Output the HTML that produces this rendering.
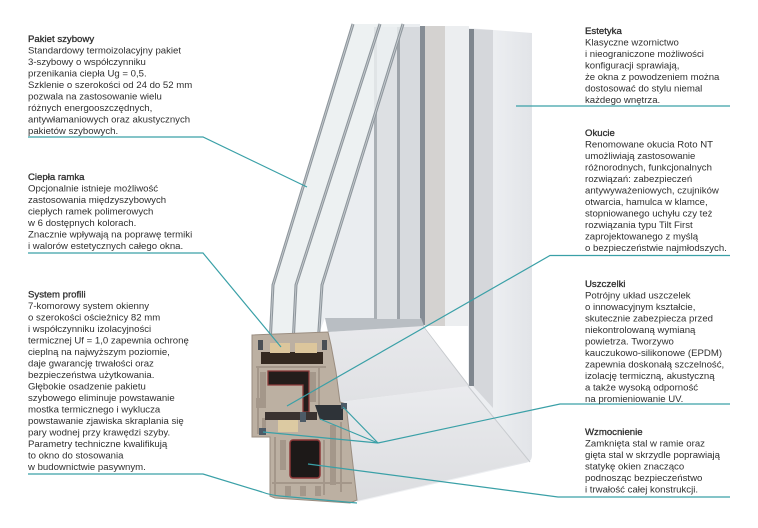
<!DOCTYPE html>
<html>
<head>
<meta charset="utf-8">
<style>
html,body{margin:0;padding:0;background:#fff;}
svg{display:block;}
text{font-family:"Liberation Sans","DejaVu Sans",sans-serif;font-size:9.6px;fill:#2f2f2f;}
.t{stroke:#2f2f2f;stroke-width:0.3px;}
.ln{fill:none;stroke:#3aa0a7;stroke-width:1.2;}
</style>
</head>
<body>
<svg width="758" height="528" viewBox="0 0 758 528" xmlns="http://www.w3.org/2000/svg">
<defs>
<linearGradient id="railF" x1="0" y1="0" x2="0" y2="1">
<stop offset="0" stop-color="#eaebee"/><stop offset="1" stop-color="#dcdde0"/>
</linearGradient>
<linearGradient id="railS" x1="0" y1="0" x2="0" y2="1">
<stop offset="0" stop-color="#e8e9ec"/><stop offset="1" stop-color="#e0e1e4"/>
</linearGradient>
<linearGradient id="frameV" x1="0" y1="0" x2="1" y2="0">
<stop offset="0" stop-color="#f1f2f4"/><stop offset="0.8" stop-color="#eceef1"/><stop offset="1" stop-color="#e2e4e8"/>
</linearGradient>
</defs>

<!-- ===== Window ===== -->
<path d="M468,28 L532,33 L532,455 Q532,462 525,463 L357,502 L345,404 L468,386 Z" fill="url(#frameV)"/>
<path d="M340,402 L468,386 L529,461 L357,501 Z" fill="url(#railF)"/>
<line x1="468" y1="386" x2="530" y2="462" stroke="#c8cbcf" stroke-width="1"/>
<path d="M473,29 L493,30 L493,408 L473,386 Z" fill="#d5d7db"/>
<rect x="469" y="29" width="5" height="357" fill="#7f868e"/>

<rect x="420" y="26" width="49" height="300" fill="#eceef0"/>
<rect x="425" y="26" width="20" height="300" fill="#d4d2d0"/>
<rect x="420" y="26" width="5" height="299" fill="#868d95"/>
<path d="M328,332 L422,326 L469,386 L340,402 Z" fill="url(#railS)"/>
<line x1="423" y1="326" x2="469" y2="386" stroke="#c6c9cd" stroke-width="1"/>
<path d="M325,318 L421,318 L424,326 L328,332 Z" fill="#b9bec3"/>

<path d="M353,24 L420,24 L420,318 L325,318 L318,336 L270,336 L273,285 Z" fill="#eaedf0"/>
<rect x="374" y="27" width="3" height="292" fill="#aab0b5"/>
<rect x="377" y="27" width="20" height="292" fill="#dde0e3"/>
<rect x="397" y="27" width="3" height="292" fill="#9da3a9"/>
<rect x="400" y="27" width="20" height="292" fill="#d7dade"/>

<path d="M353,24 L403,24 L322,285 L318,340 L270,340 L273,285 Z" fill="#eef1f3" opacity="0.8"/>
<g fill="none" stroke-linejoin="round">
<polyline points="353,24 273,285 270,345" stroke="#8f979d" stroke-width="3"/>
<polyline points="380,24 296,285 293,345" stroke="#8f979d" stroke-width="3"/>
<polyline points="403,24 322,285 318,345" stroke="#8f979d" stroke-width="3"/>
<polyline points="353,24 273,285 270,345" stroke="#c9ced2" stroke-width="0.8"/>
<polyline points="380,24 296,285 293,345" stroke="#c9ced2" stroke-width="0.8"/>
<polyline points="403,24 322,285 318,345" stroke="#c9ced2" stroke-width="0.8"/>
</g>

<!-- cross-section -->
<path d="M252,335 L328,332 L331,345 L336,372 L340,402 L346,404 L357,500 L350,503 L275,498 L270,496 L270,437 L252,437 Z" fill="#bcb0a2" stroke="#9a8d80" stroke-width="1"/>
<g fill="#a4978a">
<rect x="256" y="366" width="70" height="2"/>
<rect x="257" y="368" width="2" height="66"/>
<rect x="318" y="366" width="2" height="40"/>
<rect x="260" y="372" width="6" height="26"/>
<rect x="310" y="372" width="6" height="30"/>
<rect x="256" y="398" width="10" height="10"/>
<rect x="274" y="437" width="2" height="58"/>
<rect x="280" y="440" width="6" height="30"/>
<rect x="323" y="440" width="2" height="55"/>
<rect x="330" y="425" width="6" height="60"/>
<rect x="340" y="422" width="2" height="70"/>
<rect x="272" y="482" width="80" height="2"/>
<rect x="285" y="486" width="6" height="10"/>
<rect x="300" y="486" width="6" height="10"/>
<rect x="315" y="486" width="6" height="10"/>
<rect x="262" y="418" width="4" height="14"/>
</g>
<rect x="261" y="352" width="62" height="12" fill="#33281f"/>
<rect x="270" y="343" width="20" height="10" fill="#dcc69c"/>
<rect x="295" y="343" width="22" height="10" fill="#dcc69c"/>
<rect x="258" y="340" width="5" height="10" fill="#4a4f55"/>
<rect x="322" y="340" width="5" height="10" fill="#4a4f55"/>
<path d="M268,371 L309,371 L309,412 L303,412 L303,385 L268,385 Z" fill="#231d1b" stroke="#8b3b3b" stroke-width="1.3"/>
<rect x="265" y="412" width="52" height="8" fill="#3a3230"/>
<rect x="278" y="420" width="20" height="12" fill="#dccaa2"/>
<path d="M315,405 L343,405 L343,420 L320,420 Z" fill="#2e3338"/>
<rect x="341" y="403" width="6" height="6" fill="#4d5a66"/>
<rect x="259" y="428" width="7" height="7" fill="#4d5a66"/>
<rect x="300" y="412" width="6" height="10" fill="#4d5a66"/>
<rect x="290" y="440" width="30" height="38" rx="3" fill="#1d1918" stroke="#8b3737" stroke-width="1.5"/>

<!-- ===== Connector lines ===== -->
<polyline class="ln" points="28,137 203,137 307,187"/>
<polyline class="ln" points="28,253 203,253 281,347"/>
<path class="ln" d="M28,474 L203,474 L262,492 Q270,495 280,496 L357,503"/>
<line class="ln" x1="516" y1="106" x2="730" y2="106"/>
<polyline class="ln" points="730,255.5 550,255.5 287,406"/>
<polyline class="ln" points="730,404 560,404 378,443"/>
<line class="ln" x1="378" y1="443" x2="343" y2="407"/>
<line class="ln" x1="378" y1="443" x2="320" y2="419"/>
<line class="ln" x1="378" y1="443" x2="263" y2="432"/>
<polyline class="ln" points="730,497 558,497 308,464"/>

<!-- ===== Text left ===== -->
<text x="28" y="41.8"><tspan class="t">Pakiet szybowy</tspan>
<tspan x="28" dy="11.5">Standardowy termoizolacyjny pakiet</tspan>
<tspan x="28" dy="11.5">3-szybowy o współczynniku</tspan>
<tspan x="28" dy="11.5">przenikania ciepła Ug = 0,5.</tspan>
<tspan x="28" dy="11.5">Szklenie o szerokości od 24 do 52 mm</tspan>
<tspan x="28" dy="11.5">pozwala na zastosowanie wielu</tspan>
<tspan x="28" dy="11.5">różnych energooszczędnych,</tspan>
<tspan x="28" dy="11.5">antywłamaniowych oraz akustycznych</tspan>
<tspan x="28" dy="11.5">pakietów szybowych.</tspan></text>

<text x="28" y="180.2"><tspan class="t">Ciepła ramka</tspan>
<tspan x="28" dy="11.5">Opcjonalnie istnieje możliwość</tspan>
<tspan x="28" dy="11.5">zastosowania międzyszybowych</tspan>
<tspan x="28" dy="11.5">ciepłych ramek polimerowych</tspan>
<tspan x="28" dy="11.5">w 6 dostępnych kolorach.</tspan>
<tspan x="28" dy="11.5">Znacznie wpływają na poprawę termiki</tspan>
<tspan x="28" dy="11.5">i walorów estetycznych całego okna.</tspan></text>

<text x="28" y="297.5"><tspan class="t">System profili</tspan>
<tspan x="28" dy="11.5">7-komorowy system okienny</tspan>
<tspan x="28" dy="11.5">o szerokości ościeżnicy 82 mm</tspan>
<tspan x="28" dy="11.5">i współczynniku izolacyjności</tspan>
<tspan x="28" dy="11.5">termicznej Uf = 1,0 zapewnia ochronę</tspan>
<tspan x="28" dy="11.5">cieplną na najwyższym poziomie,</tspan>
<tspan x="28" dy="11.5">daje gwarancję trwałości oraz</tspan>
<tspan x="28" dy="11.5">bezpieczeństwa użytkowania.</tspan>
<tspan x="28" dy="11.5">Głębokie osadzenie pakietu</tspan>
<tspan x="28" dy="11.5">szybowego eliminuje powstawanie</tspan>
<tspan x="28" dy="11.5">mostka termicznego i wyklucza</tspan>
<tspan x="28" dy="11.5">powstawanie zjawiska skraplania się</tspan>
<tspan x="28" dy="11.5">pary wodnej przy krawędzi szyby.</tspan>
<tspan x="28" dy="11.5">Parametry techniczne kwalifikują</tspan>
<tspan x="28" dy="11.5">to okno do stosowania</tspan>
<tspan x="28" dy="11.5">w budownictwie pasywnym.</tspan></text>

<!-- ===== Text right ===== -->
<text x="585" y="34.2"><tspan class="t">Estetyka</tspan>
<tspan x="585" dy="11.5">Klasyczne wzornictwo</tspan>
<tspan x="585" dy="11.5">i nieograniczone możliwości</tspan>
<tspan x="585" dy="11.5">konfiguracji sprawiają,</tspan>
<tspan x="585" dy="11.5">że okna z powodzeniem można</tspan>
<tspan x="585" dy="11.5">dostosować do stylu niemal</tspan>
<tspan x="585" dy="11.5">każdego wnętrza.</tspan></text>

<text x="585" y="136.2"><tspan class="t">Okucie</tspan>
<tspan x="585" dy="11.5">Renomowane okucia Roto NT</tspan>
<tspan x="585" dy="11.5">umożliwiają zastosowanie</tspan>
<tspan x="585" dy="11.5">różnorodnych, funkcjonalnych</tspan>
<tspan x="585" dy="11.5">rozwiązań: zabezpieczeń</tspan>
<tspan x="585" dy="11.5">antywyważeniowych, czujników</tspan>
<tspan x="585" dy="11.5">otwarcia, hamulca w klamce,</tspan>
<tspan x="585" dy="11.5">stopniowanego uchyłu czy też</tspan>
<tspan x="585" dy="11.5">rozwiązania typu Tilt First</tspan>
<tspan x="585" dy="11.5">zaprojektowanego z myślą</tspan>
<tspan x="585" dy="11.5">o bezpieczeństwie najmłodszych.</tspan></text>

<text x="585" y="286.8"><tspan class="t">Uszczelki</tspan>
<tspan x="585" dy="11.5">Potrójny układ uszczelek</tspan>
<tspan x="585" dy="11.5">o innowacyjnym kształcie,</tspan>
<tspan x="585" dy="11.5">skutecznie zabezpiecza przed</tspan>
<tspan x="585" dy="11.5">niekontrolowaną wymianą</tspan>
<tspan x="585" dy="11.5">powietrza. Tworzywo</tspan>
<tspan x="585" dy="11.5">kauczukowo-silikonowe (EPDM)</tspan>
<tspan x="585" dy="11.5">zapewnia doskonałą szczelność,</tspan>
<tspan x="585" dy="11.5">izolację termiczną, akustyczną</tspan>
<tspan x="585" dy="11.5">a także wysoką odporność</tspan>
<tspan x="585" dy="11.5">na promieniowanie UV.</tspan></text>

<text x="585" y="435.2"><tspan class="t">Wzmocnienie</tspan>
<tspan x="585" dy="11.5">Zamknięta stal w ramie oraz</tspan>
<tspan x="585" dy="11.5">gięta stal w skrzydle poprawiają</tspan>
<tspan x="585" dy="11.5">statykę okien znacząco</tspan>
<tspan x="585" dy="11.5">podnosząc bezpieczeństwo</tspan>
<tspan x="585" dy="11.5">i trwałość całej konstrukcji.</tspan></text>
</svg>
</body>
</html>
